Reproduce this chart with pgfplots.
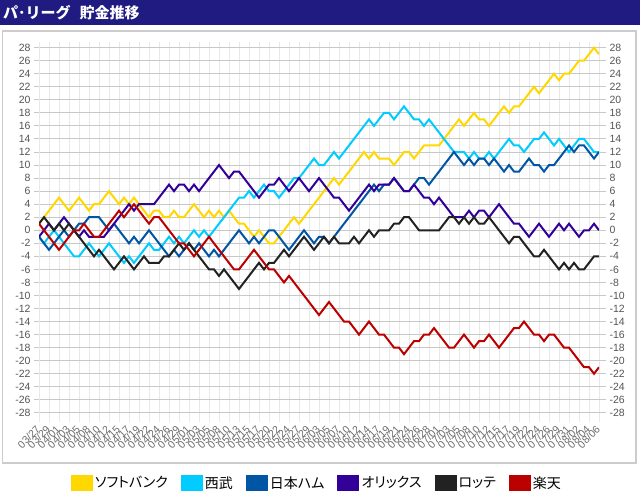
\documentclass[border=0pt]{standalone}
\usepackage{fontspec}
\setmainfont{Liberation Sans}
\newfontfamily\jpt{Noto Sans CJK JP}
\newfontfamily\jpp[RawFeature=+palt]{Noto Sans CJK JP}
\usepackage{pgfplots}
\usepackage{pgfplotstable}
\pgfplotsset{compat=1.18}
\definecolor{titlebg}{RGB}{31,27,128}
\definecolor{csb}{RGB}{255,216,0}
\definecolor{csei}{RGB}{0,204,255}
\definecolor{cnh}{RGB}{0,85,165}
\definecolor{corx}{RGB}{51,0,153}
\definecolor{clot}{RGB}{34,34,34}
\definecolor{crak}{RGB}{187,0,0}
\definecolor{gridh}{RGB}{200,200,200}
\definecolor{gridv}{RGB}{232,232,232}
\definecolor{gridz}{RGB}{140,140,140}
\definecolor{gridl}{RGB}{175,175,175}
\definecolor{ticktext}{RGB}{85,85,85}
\definecolor{xtext}{RGB}{110,110,110}
\definecolor{frame}{RGB}{204,204,204}

\pgfplotstableread{
i sb sei nh orx lot rak
0 1 -1 -1 -1 1 1
1 2 -2 -2 0 2 0
2 3 -1 -3 1 1 -1
3 4 0 -2 0 0 -2
4 5 -1 -1 1 1 -3
5 4 -2 0 2 0 -2
6 3 -3 -1 1 1 -1
7 4 -4 0 0 0 0
8 5 -4 1 -1 -1 0
9 4 -3 1 0 -2 1
10 3 -2 2 -1 -3 0
11 4 -3 2 -1 -4 -1
12 4 -4 2 -1 -3 -1
13 5 -3 1 -1 -4 0
14 6 -2 0 0 -5 1
15 5 -3 1 1 -6 2
16 4 -4 0 2 -5 3
17 5 -5 -1 3 -4 2
18 4 -4 -2 4 -5 3
19 5 -5 -1 3 -6 4
20 4 -4 -2 4 -5 3
21 3 -3 -1 4 -4 2
22 2 -2 0 4 -5 1
23 3 -3 -1 4 -5 2
24 3 -3 -2 5 -5 2
25 2 -2 -3 6 -4 1
26 2 -1 -4 7 -4 0
27 3 -2 -3 6 -3 -1
28 2 -1 -4 7 -2 -2
29 2 -2 -3 7 -3 -2
30 3 -1 -2 6 -2 -3
31 4 0 -3 7 -3 -4
32 3 -1 -2 6 -4 -3
33 2 0 -3 7 -5 -2
34 3 -1 -4 8 -6 -1
35 2 0 -3 9 -6 -2
36 3 1 -4 10 -7 -3
37 2 2 -3 9 -6 -4
38 3 3 -2 8 -7 -5
39 2 4 -1 9 -8 -6
40 1 5 0 9 -9 -6
41 1 5 -1 8 -8 -5
42 0 6 -2 7 -7 -4
43 -1 5 -1 6 -6 -3
44 0 6 -2 5 -5 -4
45 -1 7 -1 6 -6 -5
46 -2 6 0 7 -5 -6
47 -2 6 0 7 -5 -6
48 -1 5 -1 8 -4 -7
49 0 6 -2 7 -3 -8
50 1 7 -3 6 -4 -7
51 2 8 -2 7 -3 -8
52 1 8 -1 8 -2 -9
53 2 9 0 7 -1 -10
54 3 10 -1 6 -2 -11
55 4 11 -2 7 -3 -12
56 5 10 -1 8 -2 -13
57 6 10 -1 7 -1 -12
58 7 11 -2 6 -2 -11
59 8 12 -1 5 -1 -12
60 7 11 0 5 -2 -13
61 8 12 1 4 -2 -14
62 9 13 2 3 -2 -14
63 10 14 3 4 -1 -15
64 11 15 4 5 -2 -16
65 12 16 5 6 -1 -15
66 11 17 6 7 0 -14
67 12 16 7 6 -1 -15
68 11 17 6 7 0 -16
69 11 18 7 7 0 -16
70 11 18 7 7 0 -17
71 10 17 8 8 1 -18
72 11 18 7 7 1 -18
73 12 19 6 6 2 -19
74 12 18 6 6 2 -18
75 11 17 7 7 1 -17
76 12 17 8 6 0 -17
77 13 16 8 5 0 -16
78 13 17 7 5 0 -16
79 13 16 8 4 0 -15
80 13 15 9 5 0 -16
81 14 14 10 4 1 -17
82 15 13 11 3 2 -18
83 16 12 12 2 2 -18
84 17 12 11 2 1 -17
85 16 12 10 2 2 -16
86 17 11 11 3 1 -17
87 18 12 10 2 2 -18
88 17 11 11 3 1 -17
89 17 11 11 3 1 -17
90 16 12 10 2 2 -16
91 17 11 11 3 1 -17
92 18 12 10 4 0 -18
93 19 13 9 3 -1 -17
94 18 14 10 2 -2 -16
95 19 13 9 1 -1 -15
96 19 13 9 1 -1 -15
97 20 12 10 0 -2 -14
98 21 13 11 -1 -3 -15
99 22 14 10 0 -4 -16
100 21 14 10 1 -4 -16
101 22 15 9 0 -3 -17
102 23 14 10 -1 -4 -16
103 24 13 10 0 -5 -16
104 23 14 11 1 -6 -17
105 24 13 12 0 -5 -18
106 24 12 13 1 -6 -18
107 25 13 12 0 -5 -19
108 26 14 13 -1 -6 -20
109 26 14 13 0 -6 -21
110 27 13 12 0 -5 -21
111 28 12 11 1 -4 -22
112 27 12 12 0 -4 -21
}\data

\begin{document}
\begin{tikzpicture}[x=1bp,y=1bp]
\useasboundingbox (0,0) rectangle (640,495);
\fill[white] (0,0) rectangle (640,495);
\fill[titlebg] (0,469.5) rectangle (640,495);
\node[anchor=west, text=white, inner sep=0pt, font=\jpt\bfseries\fontsize{15bp}{15bp}\selectfont] at (3,482.5) {パ･リーグ\hspace{9bp}貯金推移};
\draw[frame, line width=1.5bp] (2.5,32) rectangle (636,464);

\begin{axis}[
  at={(39bp,73bp)}, anchor=south west,
  scale only axis, width=560bp, height=380.2bp,
  xmin=0, xmax=112, ymin=-29.4, ymax=28.9,
  axis line style={draw=none},
  xtick={0,2,...,112},
  xticklabels={03/27,03/29,04/01,04/03,04/05,04/08,04/10,04/12,04/15,04/17,04/19,04/22,04/24,04/26,04/29,05/01,05/03,05/05,05/08,05/10,05/13,05/15,05/17,05/20,05/22,05/24,05/27,05/29,06/03,06/05,06/07,06/10,06/12,06/14,06/17,06/19,06/21,06/24,06/26,06/28,07/01,07/03,07/05,07/08,07/10,07/12,07/15,07/17,07/19,07/22,07/24,07/26,07/29,07/31,08/02,08/04,08/06},
  ytick={-28,-26,...,28},
  yticklabels={-28,-26,-24,-22,-20,-18,-16,-14,-12,-10,-8,-6,-4,-2,0,2,4,6,8,10,12,14,16,18,20,22,24,26,28},
  xmajorgrids, ymajorgrids,
  x grid style={gridv, line width=1bp},
  y grid style={gridh, line width=1bp},
  tick align=outside,
  major tick length=5bp,
  xtick pos=bottom, ytick pos=left,
  xtick style={draw=none},
  ytick style={gridh, line width=1bp},
  extra x ticks={0}, extra x tick labels={},
  extra x tick style={grid style={gridl, line width=1bp}},
  extra y ticks={0}, extra y tick labels={},
  extra y tick style={grid style={gridz, line width=1bp}},
  xticklabel style={rotate=45, anchor=east, text=xtext, font=\fontsize{10.5bp}{12bp}\selectfont, inner sep=1bp},
  yticklabel style={text=ticktext, font=\fontsize{10.5bp}{12bp}\selectfont},
  legend columns=6,
  legend style={at={(0.4964,-0.1604)}, anchor=center, draw=none, fill=none,
    font=\jpp\fontsize{14bp}{14bp}\selectfont,
    /tikz/every even column/.append style={column sep=11bp},
    nodes={inner sep=2bp}},
  legend image code/.code={\fill[#1] (0bp,-7bp) rectangle (20bp,7bp);},
  every axis plot/.append style={line width=2bp, mark=none},
]
\addplot[csb] table[x=i,y=sb]{\data};
\addlegendentry{ソフトバンク}
\addplot[csei] table[x=i,y=sei]{\data};
\addlegendentry{西武}
\addplot[cnh] table[x=i,y=nh]{\data};
\addlegendentry{日本ハム}
\addplot[corx] table[x=i,y=orx]{\data};
\addlegendentry{オリックス}
\addplot[clot] table[x=i,y=lot]{\data};
\addlegendentry{ロッテ}
\addplot[crak] table[x=i,y=rak]{\data};
\addlegendentry{楽天}
\end{axis}

\begin{axis}[
  at={(39bp,73bp)}, anchor=south west,
  scale only axis, width=560bp, height=380.2bp,
  xmin=0, xmax=112, ymin=-29.4, ymax=28.9,
  axis line style={draw=none},
  xtick=\empty,
  ytick={-28,-26,...,28},
  yticklabels={-28,-26,-24,-22,-20,-18,-16,-14,-12,-10,-8,-6,-4,-2,0,2,4,6,8,10,12,14,16,18,20,22,24,26,28},
  ytick pos=right, yticklabel pos=right,
  tick align=outside,
  major tick length=7bp,
  ytick style={gridh, line width=1bp},
  yticklabel style={text=ticktext, font=\fontsize{10.5bp}{12bp}\selectfont},
]
\end{axis}
\end{tikzpicture}
\end{document}
